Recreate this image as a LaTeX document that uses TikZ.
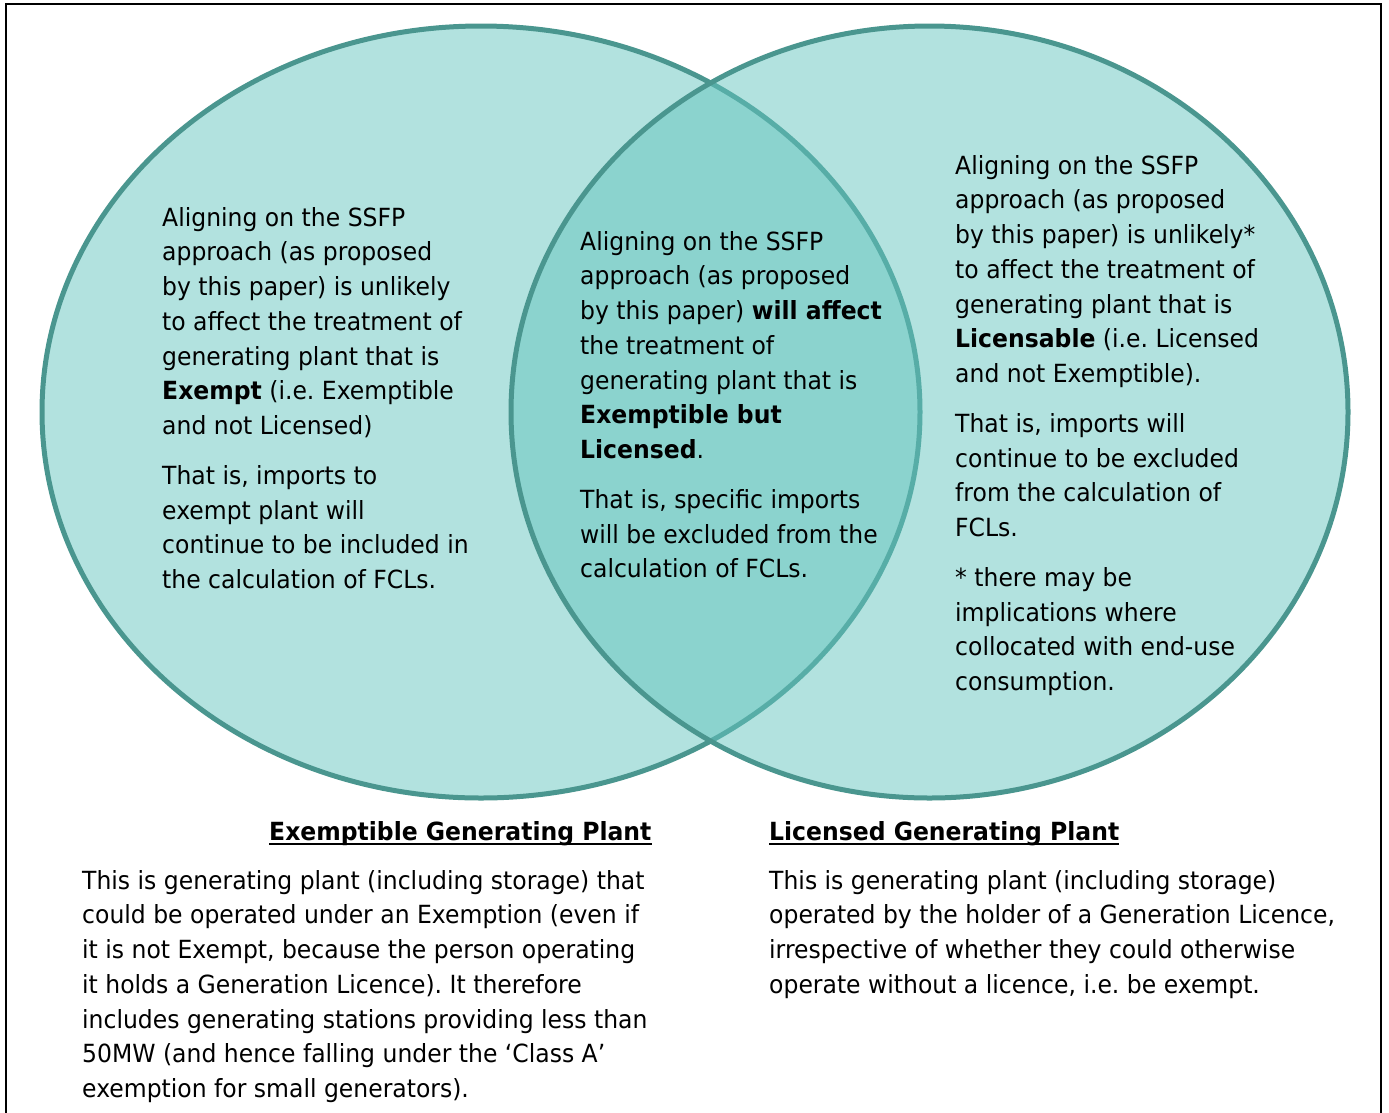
\documentclass[tikz,border=0pt]{standalone}
\usepackage{fontspec}
\setmainfont{DejaVu Sans}[FakeStretch=0.94]
\frenchspacing
\definecolor{edgeteal}{RGB}{74,150,143}
\definecolor{fillL}{RGB}{178,226,223}
\definecolor{fillR}{RGB}{101,197,191}
\begin{document}
\begin{tikzpicture}[x=1pt,y=-1pt,
  circ/.style={line width=5pt, draw=edgeteal},
  txt/.style={anchor=north west, inner sep=0pt, align=left, text=black,
    font=\fontsize{25}{34.7}\selectfont},
  head/.style={anchor=base west, inner sep=0pt, text=black,
    font=\fontsize{25}{34.7}\selectfont\bfseries},
  uline/.style={line width=2pt, draw=black}]
\useasboundingbox (0,0) rectangle (1389,1112);
\draw[line width=2pt] (6,1130) -- (6,4) -- (1381,4) -- (1381,1130);
% circles
\path[circ, fill=fillL] (481,412) ellipse [x radius=439pt, y radius=386pt];
\path[circ, fill=fillR, fill opacity=0.5] (929.5,412) ellipse [x radius=418.5pt, y radius=386pt];
% texts
\node[txt] (tl) at (162,207) {Aligning on the SSFP\\approach (as proposed\\by this paper) is unlikely\\to affect the treatment of\\generating plant that is\\\textbf{Exempt} (i.e. Exemptible\\and not Licensed)\\[15.3pt]That is, imports to\\exempt plant will\\continue to be included in\\the calculation of FCLs.};
\node[txt] (tc) at (580,231) {Aligning on the SSFP\\approach (as proposed\\by this paper) \textbf{will affect}\\the treatment of\\generating plant that is\\\textbf{Exemptible but}\\\textbf{Licensed}.\\[15.3pt]That is, specific imports\\will be excluded from the\\calculation of FCLs.};
\node[txt] (tr) at (955,155) {Aligning on the SSFP\\approach (as proposed\\by this paper) is unlikely*\\to affect the treatment of\\generating plant that is\\\textbf{Licensable} (i.e. Licensed\\and not Exemptible).\\[15.3pt]That is, imports will\\continue to be excluded\\from the calculation of\\FCLs.\\[15.3pt]* there may be\\implications where\\collocated with end-use\\consumption.};
% bottom
\node[head] (hl) at (269,840) {Exemptible Generating Plant};
\draw[uline] ([yshift=-4pt]hl.base west) -- ([yshift=-4pt]hl.base east);
\node[head] (hr) at (769,840) {Licensed Generating Plant};
\draw[uline] ([yshift=-4pt]hr.base west) -- ([yshift=-4pt]hr.base east);
\node[txt] (bl) at (82,870) {This is generating plant (including storage) that\\could be operated under an Exemption (even if\\it is not Exempt, because the person operating\\it holds a Generation Licence). It therefore\\includes generating stations providing less than\\50MW (and hence falling under the ‘Class A’\\exemption for small generators).};
\node[txt] (br) at (769,870) {This is generating plant (including storage)\\operated by the holder of a Generation Licence,\\irrespective of whether they could otherwise\\operate without a licence, i.e. be exempt.};
\end{tikzpicture}
\end{document}
